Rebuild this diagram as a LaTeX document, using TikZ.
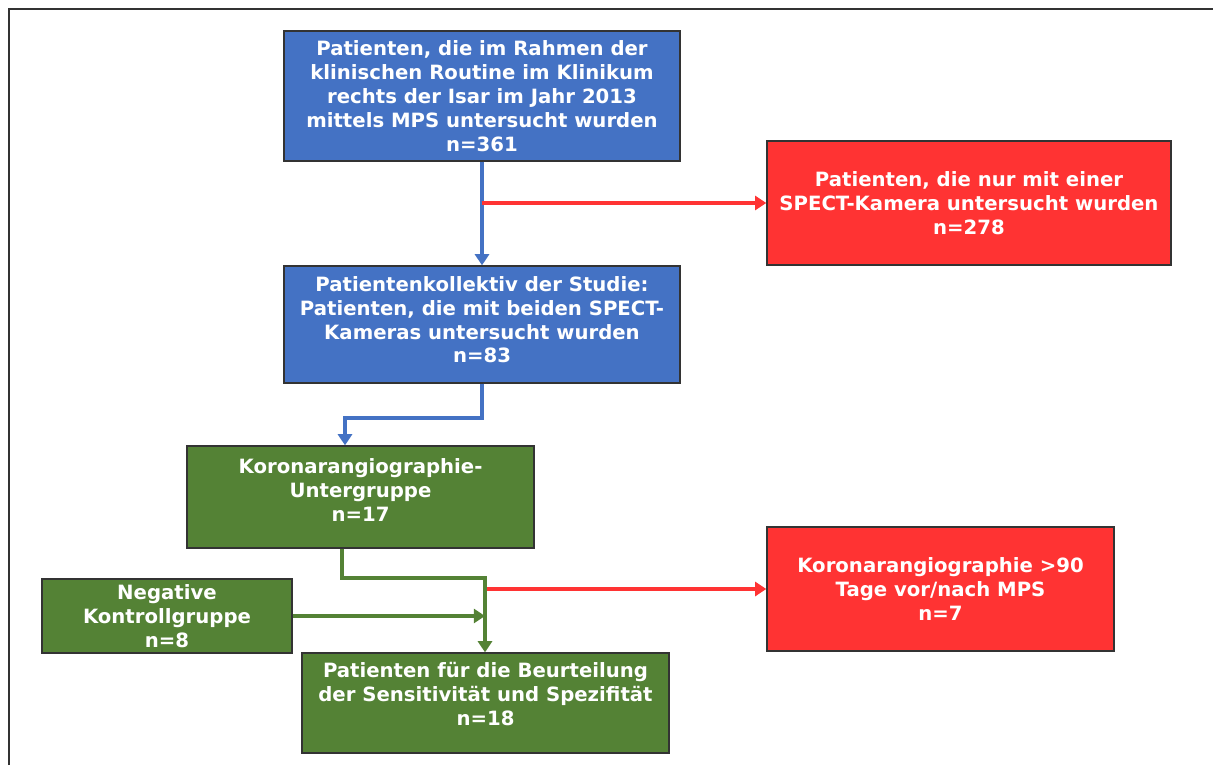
\documentclass[tikz,border=0pt]{standalone}
\usepackage{fontspec}
\setmainfont{DejaVu Sans}
\usetikzlibrary{arrows.meta}
\definecolor{boxblue}{HTML}{4472C4}
\definecolor{boxgreen}{HTML}{548235}
\definecolor{boxred}{HTML}{FF3333}
\definecolor{edge}{HTML}{333333}

\begin{document}
\begin{tikzpicture}[x=0.025cm, y=-0.025cm,
      box/.style={draw=edge, line width=0.9pt, align=center, text=white,
                  font=\fontsize{14}{17}\selectfont\bfseries, inner sep=2pt},
      conn/.style={line width=2.2pt, -{Triangle[length=8pt,width=10pt]}},
    ]
      \useasboundingbox (0,0) rectangle (1213,765);
      % frame of the page
      \draw[edge, line width=1.5pt] (9,765) -- (9,9) -- (1213,9);

      \node[box, fill=boxblue, minimum width=9.9cm, minimum height=3.25cm] (start) at (482,96) {%
        Patienten, die im Rahmen der\\
        klinischen Routine im Klinikum\\
        rechts der Isar im Jahr 2013\\
        mittels MPS untersucht wurden\\
        n=361};
      \node[box, fill=boxred, minimum width=10.1cm, minimum height=3.1cm] (single) at (969,203) {%
        Patienten, die nur mit einer\\
        SPECT-Kamera untersucht wurden\\
        n=278};
      \node[box, fill=boxblue, minimum width=9.9cm, minimum height=2.925cm] (cohort) at (482,324.5) {%
        Patientenkollektiv der Studie:\\
        Patienten, die mit beiden SPECT-\\
        Kameras untersucht wurden\\
        n=83\\[-10pt]};
      \node[box, fill=boxgreen, minimum width=8.675cm, minimum height=2.55cm] (angio) at (360.5,497) {%
        Koronarangiographie-\\
        Untergruppe\\
        n=17\\[-7pt]};
      \node[box, fill=boxred, minimum width=8.675cm, minimum height=3.1cm] (late) at (940.5,589) {%
        Koronarangiographie >90\\
        Tage vor/nach MPS\\
        n=7};
      \node[box, fill=boxgreen, minimum width=6.25cm, minimum height=1.85cm] (neg) at (167,616) {%
        Negative\\
        Kontrollgruppe\\
        n=8};
      \node[box, fill=boxgreen, minimum width=9.175cm, minimum height=2.5cm] (final) at (485.5,703) {%
        Patienten für die Beurteilung\\
        der Sensitivität und Spezifität\\
        n=18\\[-4pt]};

      \coordinate (split) at (345,418);
      \coordinate (merge) at (485,578);

      \draw[conn, boxblue] (start) -- (cohort);
      \draw[conn, boxred] (start.south |- single.west) -- (single.west);
      \draw[conn, boxblue] (cohort.south) |- (split) -- (split |- angio.north);
      \draw[conn, boxgreen] (angio.south -| 342,0) |- (merge) -- (final.north -| merge);
      \draw[conn, boxgreen] (neg.east) -- (neg.east -| merge);
      \draw[conn, boxred] (late.west -| 487,0) -- (late.west);
    \end{tikzpicture}
\end{document}
